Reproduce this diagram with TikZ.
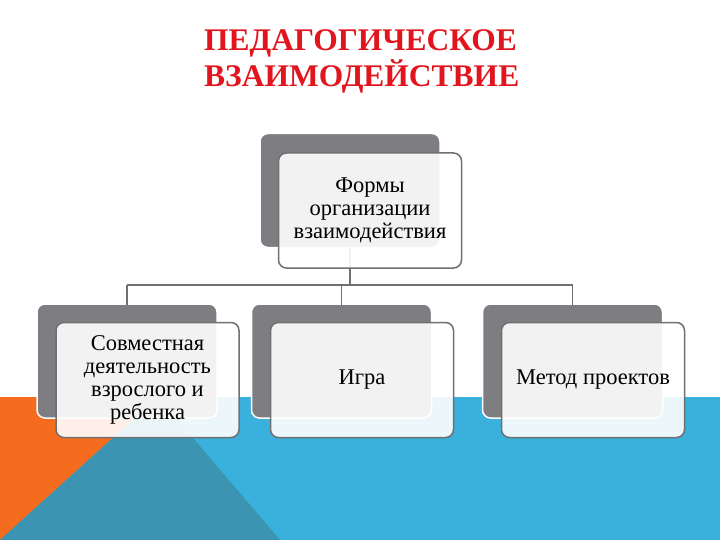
\documentclass[tikz,border=0pt]{standalone}
\usepackage{fontspec}
\setmainfont{Liberation Serif}
\usetikzlibrary{positioning,calc}
\definecolor{slidered}{RGB}{226,20,30}
\definecolor{slideblue}{RGB}{58,176,220}
\definecolor{slideteal}{RGB}{58,148,178}
\definecolor{slideorange}{RGB}{246,108,30}
\definecolor{backgray}{RGB}{126,125,130}
\definecolor{linegray}{RGB}{112,112,112}

\begin{document}
\begin{tikzpicture}[x=1pt,y=-1pt,
  backbox/.style={rectangle,rounded corners=8pt,fill=backgray,draw=white,line width=1.5pt,
    minimum width=180pt,minimum height=114pt},
  frontbox/.style={rectangle,rounded corners=8pt,fill=white,fill opacity=0.9,text opacity=1,
    draw=linegray,line width=1.5pt,minimum width=183pt,minimum height=115pt,
    align=center,font=\fontsize{22.5}{23}\selectfont},
  conn/.style={draw=linegray,line width=1.5pt}]
\useasboundingbox (0,0) rectangle (720,540);
% background
\fill[white] (0,0) rectangle (720,540);
\fill[slideblue] (0,397) rectangle (720,540);
\fill[slideorange] (0,397) -- (158,397) -- (0,540) -- cycle;
\fill[slideteal] (158,397) -- (0,540) -- (280,540) -- cycle;
% title
\node[anchor=base west,inner sep=0pt,align=left,text=slidered,
  font=\bfseries\fontsize{31.5}{36}\selectfont] (title) at (204,87) {ПЕДАГОГИЧЕСКОЕ\\ВЗАИМОДЕЙСТВИЕ};
% back boxes
\node[backbox] (topB) at (350,190.5) {};
\foreach \n/\x in {left/127,mid/341.5,right/572.5}
    \node[backbox] (\n B) at (\x,361) {};
% connectors
\coordinate (bus) at (350,285);
\draw[conn] (topB.south) -- (topB.south |- bus);
\draw[conn] (leftB.north |- bus) -- (rightB.north |- bus);
\foreach \n in {left,mid,right}
    \draw[conn] (\n B.north |- bus) -- ([yshift=-2pt]\n B.north);
% front boxes
\node[frontbox] (topF) at (370,210.5) {Формы\\организации\\взаимодействия};
\foreach \n/\txt in {left/{Совместная\\деятельность\\взрослого и\\ребенка},mid/Игра,right/Метод проектов}
    \node[frontbox] (\n F) at ($(\n B)+(20.5,19)$) {\txt};
\end{tikzpicture}
\end{document}
